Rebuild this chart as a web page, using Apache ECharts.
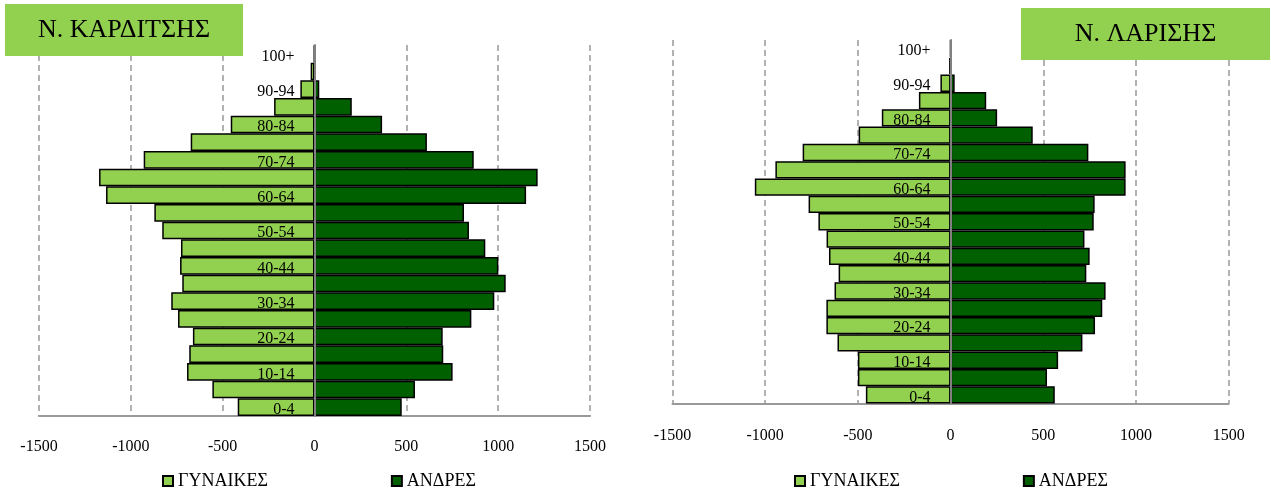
<!DOCTYPE html>
<html>
<head>
<meta charset="utf-8">
<script src="https://cdn.jsdelivr.net/npm/echarts@6/dist/echarts.min.js"></script>
<style>
html,body{margin:0;padding:0;background:#fff;}
#c{width:1271px;height:496px;}
</style>
</head>
<body>
<div id="c"></div>
<script>
var categories = ['0-4','5-9','10-14','15-19','20-24','25-29','30-34','35-39','40-44','45-49','50-54','55-59','60-64','65-69','70-74','75-79','80-84','85-89','90-94','95-99','100+'];
var karditsaWomen = [418, 556, 694, 682, 662, 743, 780, 720, 732, 727, 829, 872, 1135, 1173, 930, 674, 456, 220, 77, 21, 2];
var karditsaMen   = [475, 547, 752, 701, 698, 854, 979, 1041, 1001, 930, 841, 814, 1152, 1215, 867, 612, 368, 203, 26, 3, 1];
var larisaWomen   = [457, 500, 500, 610, 670, 670, 626, 604, 656, 669, 713, 766, 1056, 945, 798, 496, 371, 171, 55, 8, 1];
var larisaMen     = [562, 520, 580, 711, 779, 818, 836, 732, 750, 722, 772, 777, 944, 944, 743, 443, 251, 192, 22, 5, 1];
var xTicks = [-1500, -1000, -500, 0, 500, 1000, 1500];
var titles = ['Ν. ΚΑΡΔΙΤΣΗΣ', 'Ν. ΛΑΡΙΣΗΣ'];
var seriesNames = ['ΓΥΝΑΙΚΕΣ', 'ΑΝΔΡΕΣ'];

var FONT = '"Liberation Serif", "DejaVu Serif", serif';
var WOMEN_COLOR = '#92D050';
var MEN_COLOR = '#006000';

var grids = [
  {left: 39, right: 681, top: 45, bottom: 80, outerBoundsMode: 'none', containLabel: false},
  {left: 672.5, right: 42.3, top: 40, bottom: 92.5, outerBoundsMode: 'none', containLabel: false}
];
function plotWidth(g) { return 1271 - g.left - g.right; }
function zeroOffset(g) {
  var lo = xTicks[0], hi = xTicks[xTicks.length - 1];
  return plotWidth(g) * (0 - lo) / (hi - lo);
}

function xAxisCfg(idx, margin) {
  return {
    type: 'value', gridIndex: idx,
    min: xTicks[0], max: xTicks[xTicks.length - 1], interval: 500,
    axisLine: {show: true, onZero: false, lineStyle: {color: '#999', width: 2}},
    axisTick: {show: false},
    axisLabel: {fontSize: 16, color: '#000', fontFamily: FONT, margin: margin,
                formatter: function (v) { return String(v); }},
    splitLine: {show: true, lineStyle: {color: '#999', width: 1.5, type: [6, 4]}}
  };
}
function yAxisCfg(idx) {
  return {
    type: 'category', gridIndex: idx, data: categories, z: 10,
    position: 'left', offset: -zeroOffset(grids[idx]),
    axisLine: {show: true, onZero: false, lineStyle: {color: '#808080', width: 2}},
    axisTick: {show: false},
    axisLabel: {interval: 1, fontSize: 16, color: '#000', fontFamily: FONT, margin: 20,
                verticalAlign: 'top', lineHeight: 5},
    splitLine: {show: false}
  };
}
function barSeries(name, idx, values, sign, color) {
  return {
    name: name, type: 'bar', xAxisIndex: idx, yAxisIndex: idx, stack: 'p' + idx,
    barCategoryGap: 0,
    data: values.map(function (v) { return sign * v; }),
    itemStyle: {color: color, borderColor: '#000', borderWidth: 1.5},
    emphasis: {disabled: true}
  };
}
function legendCfg(left) {
  return {
    data: seriesNames, left: left, top: 472, orient: 'horizontal', padding: 0,
    icon: 'rect', itemWidth: 10, itemHeight: 10, itemGap: 123,
    textStyle: {fontSize: 18, color: '#000', fontFamily: FONT},
    selectedMode: false
  };
}
function titleBox(x, y, w, h, text) {
  return {
    type: 'group', z: 100,
    children: [
      {type: 'rect', shape: {x: x, y: y, width: w, height: h}, style: {fill: '#92D050'}, z: 100},
      {type: 'text', x: x + w / 2, y: y + h / 2, z: 101,
       style: {text: text, fill: '#000', font: '26px ' + FONT, align: 'center', verticalAlign: 'middle'}}
    ]
  };
}

var chart = echarts.init(document.getElementById('c'), null, {renderer: 'canvas'});
chart.setOption({
  animation: false,
  backgroundColor: '#fff',
  grid: grids,
  xAxis: [xAxisCfg(0, 23), xAxisCfg(1, 24)],
  yAxis: [yAxisCfg(0), yAxisCfg(1)],
  legend: [legendCfg(162), legendCfg(794)],
  series: [
    barSeries(seriesNames[0], 0, karditsaWomen, -1, WOMEN_COLOR),
    barSeries(seriesNames[1], 0, karditsaMen, 1, MEN_COLOR),
    barSeries(seriesNames[0], 1, larisaWomen, -1, WOMEN_COLOR),
    barSeries(seriesNames[1], 1, larisaMen, 1, MEN_COLOR)
  ],
  graphic: [
    titleBox(5, 4, 238, 52, titles[0]),
    titleBox(1021, 8, 249, 52, titles[1])
  ]
});
</script>
</body>
</html>
